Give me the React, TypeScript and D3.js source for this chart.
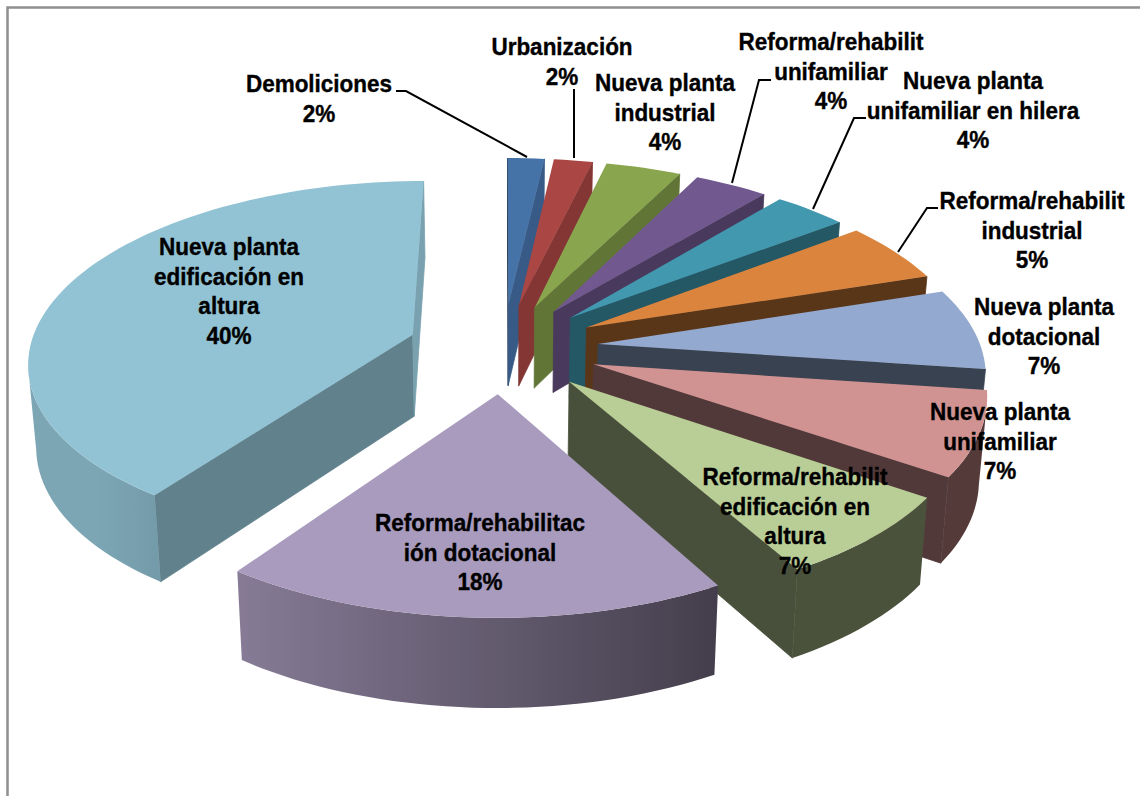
import React from "react";
import * as d3 from "d3";

// Chart data, in slice order (clockwise from twelve o'clock)
const categoryLines = [
  ["Demoliciones"],
  ["Urbanización"],
  ["Nueva planta", "industrial"],
  ["Reforma/rehabilit", "unifamiliar"],
  ["Nueva planta", "unifamiliar en hilera"],
  ["Reforma/rehabilit", "industrial"],
  ["Nueva planta", "dotacional"],
  ["Nueva planta", "unifamiliar"],
  ["Reforma/rehabilit", "edificación en", "altura"],
  ["Reforma/rehabilitac", "ión dotacional"],
  ["Nueva planta", "edificación en", "altura"],
];
const shares = [1.8, 1.9, 3.7, 3.6, 3.6, 5.4, 7.2, 7.4, 7.3, 17.9, 40.2];
const topColors = [
  "#4572a7", "#aa4643", "#89a54e", "#71588f", "#4198af", "#db843d",
  "#93a9cf", "#d19392", "#b9cd96", "#a99bbd", "#92c3d4",
];

// Label placement: centre x and y of the first line
const labelX = [319, 562, 665, 831, 973, 1032, 1044, 1000, 795, 480, 229];
const labelY = [83, 46, 82, 41, 80, 200, 306, 411, 476, 522, 246];
const lineGap = 29.8;

// Leader lines, only for the labels sitting outside the pie
const leaders: [number, number][][] = [
  [[396, 91], [406, 91], [527, 157]],
  [[574, 89], [574, 158]],
  [[771, 80], [759, 80], [732, 183]],
  [[866, 118], [854, 118], [813, 209]],
  [[938, 208], [927, 208], [898, 252]],
];

const width = 1140;
const height = 796;

// Fake 3D camera. World units are one pie radius, Y goes away from the viewer.
const explode = 0.25;
const perspective = 0.139;
const sink = 82; // thickness of the pie in px at Y = 0
const sinkShrink = 0.983;
const xScale = d3.scaleLinear().domain([0, 1]).range([503, 886]);
const yScale = d3.scaleLinear().domain([0, 1]).range([348, 169.6]);
const cameraY = -1 / perspective;

type Pt = [number, number];

function top(X: number, Y: number): Pt {
  const w = 1 + perspective * Y;
  return [xScale(X / w), yScale(Y / w)];
}

function bottom(X: number, Y: number): Pt {
  const w = 1 + perspective * Y;
  const p = top(X, Y);
  return [xScale(0) + (p[0] - xScale(0)) * sinkShrink, p[1] + sink / Math.sqrt(w)];
}

const line = d3.line().curve(d3.curveLinearClosed);
const open = d3.line();

function shade(color: string, k: number) {
  const c = d3.rgb(color);
  return d3.rgb(c.r * k, c.g * k, c.b * k).formatHex();
}

const clamp = (v: number, a: number, b: number) => Math.max(a, Math.min(b, v));

function radialShade(nx: number, ny: number) {
  const v = clamp(0.633 + 0.193 * nx + 0.219 * ny, 0.39, 0.85);
  return v < 0.5 ? 0.39 + (v - 0.39) * 0.2 : v; // the front facing walls are all about as dark
}

function rimShade(angle: number) {
  return clamp(0.58 - 0.374 * Math.sin(angle), 0.4, 0.85);
}

function Slice({ arc, color, id }: { arc: d3.PieArcDatum<number>; color: string; id: string }) {
  const a0 = arc.startAngle;
  const a1 = arc.endAngle;
  const mid = (a0 + a1) / 2;
  const ox = explode * Math.sin(mid);
  const oy = explode * Math.cos(mid);
  const steps = Math.max(2, Math.ceil((a1 - a0) / 0.03));
  const angles = d3.range(steps + 1).map(i => a0 + ((a1 - a0) * i) / steps);
  const rim = angles.map(a => [ox + Math.sin(a), oy + Math.cos(a)] as Pt);

  const faces = (n: Pt, p: Pt) =>
    n[0] * (0 - p[0]) + n[1] * (cameraY - p[1]) > 0;

  const walls: React.ReactNode[] = [];
  const nStart: Pt = [-Math.cos(a0), Math.sin(a0)];
  const nEnd: Pt = [Math.cos(a1), -Math.sin(a1)];
  [
    { n: nStart, p: rim[0] },
    { n: nEnd, p: rim[rim.length - 1] },
  ].forEach(({ n, p }, i) => {
    if (!faces(n, [ox, oy])) return;
    const fill = shade(color, radialShade(n[0], n[1]));
    const d = line([top(ox, oy), top(p[0], p[1]), bottom(p[0], p[1]), bottom(ox, oy)]);
    walls.push(<path key={`r${i}`} d={d ?? ""} fill={fill} stroke={fill} strokeWidth={0.8} />);
  });

  // outer rim: the part facing the camera, one polygon with a left to right gradient
  const shown = d3.range(rim.length).filter(i =>
    faces([Math.sin(angles[i]), Math.cos(angles[i])], rim[i])
  );
  let rimPath: string | null = null;
  let stops: { off: number; col: string }[] = [];
  let xMin = 0;
  let xMax = 1;
  if (shown.length > 1) {
    const tops = shown.map(i => top(rim[i][0], rim[i][1]));
    const bots = shown.map(i => bottom(rim[i][0], rim[i][1]));
    rimPath = line([...tops, ...bots.reverse()]);
    xMin = d3.min(tops, p => p[0]) ?? 0;
    xMax = d3.max(tops, p => p[0]) ?? 1;
    stops = shown
      .map(i => ({
        off: (top(rim[i][0], rim[i][1])[0] - xMin) / Math.max(1, xMax - xMin),
        col: shade(color, rimShade(angles[i])),
      }))
      .sort((a, b) => a.off - b.off);
  }

  const face = line([top(ox, oy), ...rim.map(p => top(p[0], p[1]))]);
  return (
    <g>
      {walls}
      {rimPath && (
        <>
          <defs>
            <linearGradient id={id} gradientUnits="userSpaceOnUse" x1={xMin} x2={xMax} y1={0} y2={0}>
              {stops.map((s, i) => (
                <stop key={i} offset={s.off} stopColor={s.col} />
              ))}
            </linearGradient>
          </defs>
          <path d={rimPath} fill={`url(#${id})`} />
        </>
      )}
      <path d={face ?? ""} fill={color} />
    </g>
  );
}

export default function App() {
  const arcs = d3.pie<number>().sort(null)(shares);

  return (
    <svg
      width={width}
      height={height}
      style={{ position: "absolute", left: 0, top: 0, display: "block", background: "#fff" }}
    >
      <path d={`M7.5,${height}V7.5H${width}`} fill="none" stroke="#8f8f8f" strokeWidth={2.5} />

      {arcs.map((arc, i) => (
        <Slice key={i} arc={arc} color={topColors[i]} id={`rim${i}`} />
      ))}

      {leaders.map((pts, i) => (
        <path key={i} d={open(pts) ?? ""} fill="none" stroke="#000" strokeWidth={2} />
      ))}

      <g
        fontFamily="'Liberation Sans', Arial, sans-serif"
        fontWeight="bold"
        fontSize={22.5}
        textAnchor="middle"
        fill="#000"
        stroke="#000"
        strokeWidth={0.35}
      >
        {categoryLines.map((lines, i) =>
          [...lines, `${Math.round(shares[i])}%`].map((txt, j) => (
            <text
              key={`${i}-${j}`}
              transform={`translate(${labelX[i]},${labelY[i] + j * lineGap}) scale(1,1.08)`}
              dy="0.36em"
            >
              {txt}
            </text>
          ))
        )}
      </g>
    </svg>
  );
}
